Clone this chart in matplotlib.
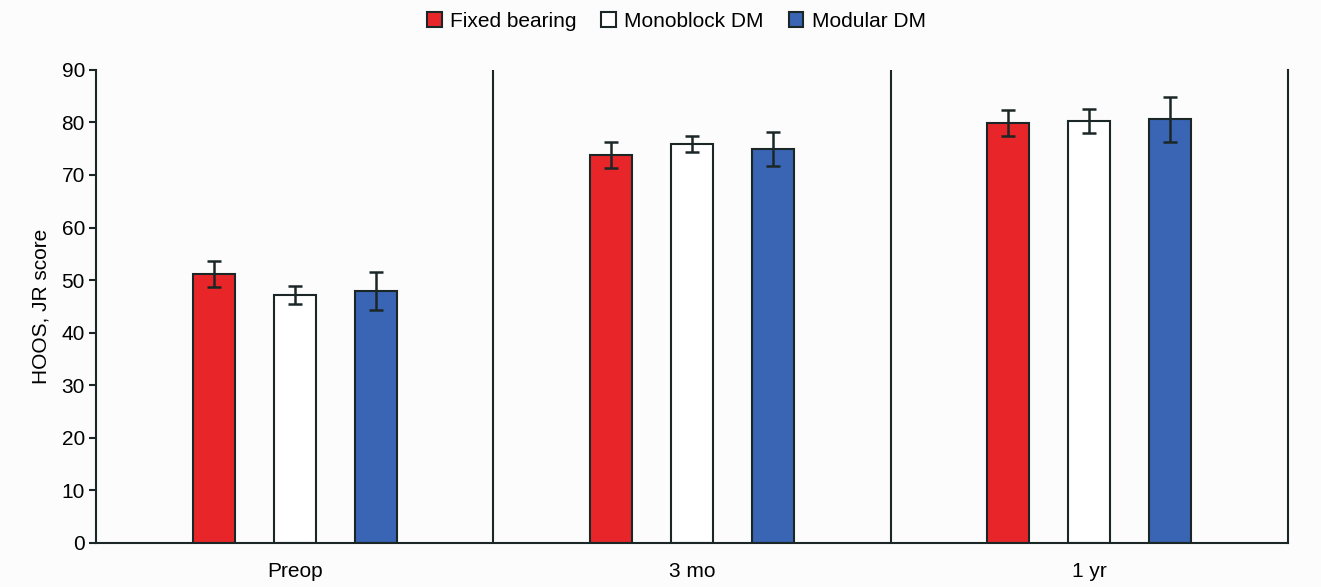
import numpy as np
from matplotlib import pyplot as plt

plt.rcParams['font.family'] = ['Liberation Sans', 'DejaVu Sans']

periods = ["Preop", "3 mo", "1 yr"]
groups = ["Fixed bearing", "Monoblock DM", "Modular DM"]
fixed = [51.1, 73.8, 79.9]
fixed_err = [2.5, 2.5, 2.5]
mono = [47.1, 75.9, 80.3]
mono_err = [1.7, 1.6, 2.3]
modular = [47.9, 75.0, 80.6]
modular_err = [3.6, 3.2, 4.3]

colors = ["#e8262a", "white", "#3a64b4"]
edge = "#1b2626"

fig = plt.figure(figsize=(13.21, 5.87), dpi=100)
fig.patch.set_facecolor("#fcfcfd")
ax = fig.add_axes([0.0727, 0.075, 0.9023, 0.806])
ax.set_facecolor("#fcfcfd")

x = np.arange(len(periods)) + 0.5
w = 0.106
off = 0.204
for i, (vals, errs) in enumerate([(fixed, fixed_err), (mono, mono_err), (modular, modular_err)]):
    ax.bar(x + (i - 1) * off, vals, w, yerr=errs, color=colors[i], edgecolor=edge,
           linewidth=1.5, label=groups[i], capsize=5,
           error_kw=dict(ecolor=edge, elinewidth=1.8, capthick=1.8))

for d in [1, 2]:
    ax.axvline(d, color=edge, lw=1.5)

ax.set_xlim(0, 3)
ax.set_ylim(0, 90)
ax.set_yticks(range(0, 91, 10))
ax.set_xticks(x)
ax.set_xticklabels(periods)
ax.tick_params(axis="x", length=0, pad=14, labelsize=15)
ax.tick_params(axis="y", length=5, width=1.5, color=edge, labelsize=15, pad=3)
ax.spines["top"].set_visible(False)
for s in ["left", "right", "bottom"]:
    ax.spines[s].set_color(edge)
    ax.spines[s].set_linewidth(1.5)
ax.set_ylabel("HOOS, JR score", fontsize=15, labelpad=8)

fig.legend(loc="upper center", bbox_to_anchor=(0.512, 1.012), ncol=3, frameon=False,
           fontsize=15, handlelength=0.7, handleheight=0.7, handletextpad=0.4,
           columnspacing=1.2)

fig.savefig("out.png", dpi=100, facecolor=fig.get_facecolor())
